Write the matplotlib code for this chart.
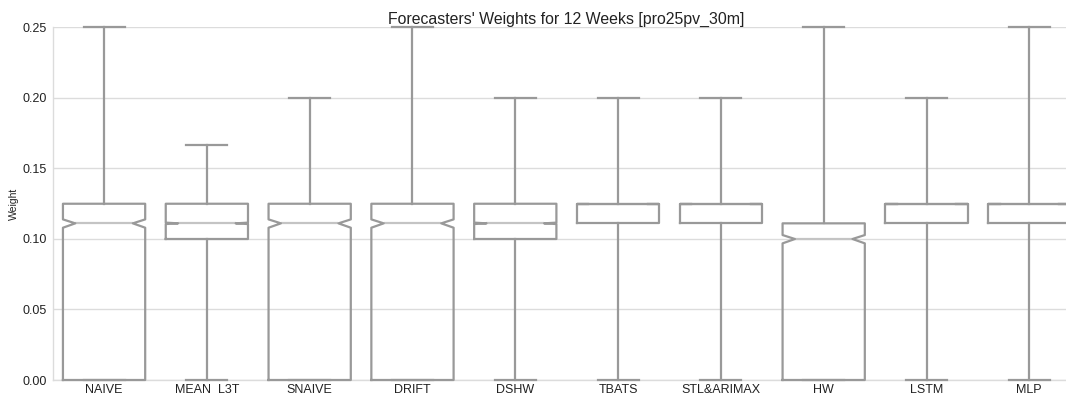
#!/usr/bin/env python3
"""Notched box plot of forecaster weights over 12 weeks."""

from __future__ import annotations

import matplotlib

matplotlib.use("Agg")
import matplotlib.pyplot as plt
from matplotlib.ticker import FormatStrFormatter

# Box statistics
forecasters = ["NAIVE", "MEAN  L3T", "SNAIVE", "DRIFT", "DSHW",
               "TBATS", "STL&ARIMAX", "HW", "LSTM", "MLP"]
whisker_low = [0.0, 0.0, 0.0, 0.0, 0.0, 0.0, 0.0, 0.0, 0.0, 0.0]
quartile_1 = [0.0, 0.1, 0.0, 0.0, 0.1, 0.1111, 0.1111, 0.0, 0.1111, 0.1111]
medians = [0.1111, 0.1111, 0.1111, 0.1111, 0.1111, 0.125, 0.125, 0.1, 0.125, 0.125]
quartile_3 = [0.125, 0.125, 0.125, 0.125, 0.125, 0.125, 0.125, 0.1111, 0.125, 0.125]
whisker_high = [0.25, 0.1667, 0.2, 0.25, 0.2, 0.2, 0.2, 0.25, 0.2, 0.25]
notch_low = [0.108, 0.1106, 0.108, 0.108, 0.1106, 0.125, 0.125, 0.0969, 0.125, 0.125]
notch_high = [0.1139, 0.1116, 0.1139, 0.1139, 0.1116, 0.125, 0.125, 0.1028, 0.125, 0.125]

BOX_COLOR = "#999999"
MEDIAN_COLOR = "#c4c4c4"
GRID_COLOR = "#dcdcdc"
BOX_WIDTH = 0.8
NOTCH_INSET = 0.15  # fraction of box width the notch cuts in on each side


def main() -> None:
    plt.rcParams["font.family"] = ["Liberation Sans", "DejaVu Sans"]

    stats = []
    for i, name in enumerate(forecasters):
        stats.append({
            "label": name,
            "whislo": whisker_low[i],
            "q1": quartile_1[i],
            "med": medians[i],
            "q3": quartile_3[i],
            "whishi": whisker_high[i],
            "cilo": notch_low[i],
            "cihi": notch_high[i],
            "fliers": [],
        })

    fig = plt.figure(figsize=(10.66, 3.96), dpi=100)
    ax = fig.add_axes([0.0494, 0.0404, 0.9644, 0.8902])

    line = {"color": BOX_COLOR, "linewidth": 1.6}
    positions = list(range(len(forecasters)))
    parts = ax.bxp(
        stats,
        positions=positions,
        widths=BOX_WIDTH,
        shownotches=True,
        showfliers=False,
        boxprops=line,
        whiskerprops=line,
        capprops=line,
        medianprops={"color": MEDIAN_COLOR, "linewidth": 1.6},
    )

    # the reference notches cut in less deeply than matplotlib's default
    for pos, box, med in zip(positions, parts["boxes"], parts["medians"]):
        left = pos - BOX_WIDTH / 2 + NOTCH_INSET * BOX_WIDTH
        right = pos + BOX_WIDTH / 2 - NOTCH_INSET * BOX_WIDTH
        xs = list(box.get_xdata())
        xs[3], xs[8] = right, left
        box.set_xdata(xs)
        med.set_xdata([left, right])
    for artist in parts["boxes"] + parts["whiskers"] + parts["caps"] + parts["medians"]:
        artist.set_clip_on(False)
        artist.set_zorder(3)
    for med in parts["medians"]:
        med.set_zorder(2)

    ax.set_xlim(-0.5, len(forecasters) - 0.5)
    ax.set_ylim(0, 0.25)
    ax.set_yticks([0.0, 0.05, 0.10, 0.15, 0.20, 0.25])
    ax.yaxis.set_major_formatter(FormatStrFormatter("%.2f"))
    ax.grid(axis="y", color=GRID_COLOR, linewidth=1.0)
    ax.set_axisbelow(True)
    ax.tick_params(length=0, labelsize=9, colors="#222222", pad=4)
    ax.tick_params(axis="x", pad=3)

    for side in ("top", "right"):
        ax.spines[side].set_visible(False)
    for side in ("left", "bottom"):
        ax.spines[side].set_color(GRID_COLOR)
        ax.spines[side].set_linewidth(1.0)

    ax.set_ylabel("Weight", fontsize=7.5, color="#222222", labelpad=3)
    ax.set_title("Forecasters' Weights for 12 Weeks [pro25pv_30m]",
                 fontsize=11.4, color="#222222", pad=2)

    fig.savefig("out.png", dpi=100)
    plt.close(fig)


if __name__ == "__main__":
    main()
